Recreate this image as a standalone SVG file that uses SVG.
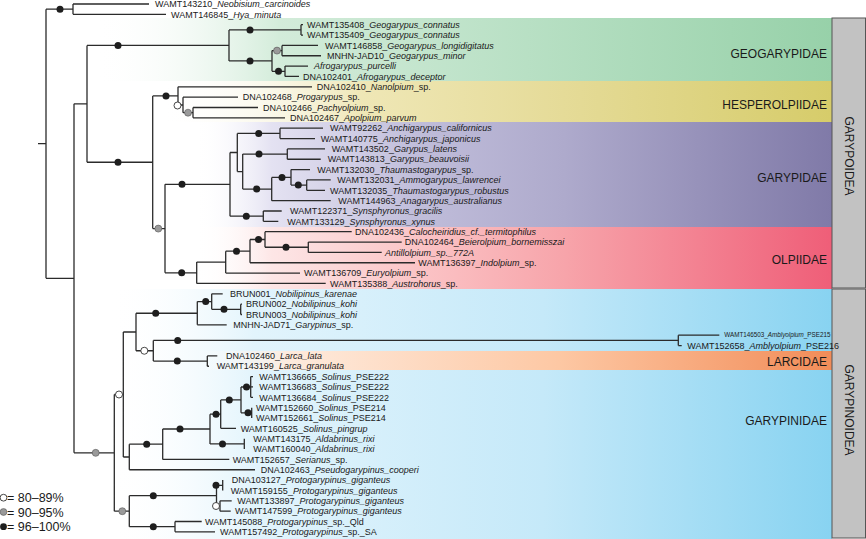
<svg xmlns="http://www.w3.org/2000/svg" width="866" height="539" viewBox="0 0 866 539">
<style>
.t{font-family:"Liberation Sans",Arial,sans-serif;font-size:9px;fill:#1a1a1a}
.i{font-style:italic}
.fam{font-family:"Liberation Sans",Arial,sans-serif;font-size:12px;fill:#1a1a1a;text-anchor:end}
.sup{font-family:"Liberation Sans",Arial,sans-serif;font-size:12px;fill:#1a1a1a;text-anchor:middle}
.lg{font-family:"Liberation Sans",Arial,sans-serif;font-size:12.5px;fill:#1a1a1a}
.br{fill:none;stroke:#2b2b2b;stroke-width:1.3}
.b{fill:#1e1e1e}
.g{fill:#9a9a9a;stroke:#555;stroke-width:0.6}
.o{fill:#fff;stroke:#333;stroke-width:0.9}
.box{fill:#c2c2c2;stroke:#555;stroke-width:1}
</style>
<defs>
<linearGradient id="gGeo" gradientUnits="userSpaceOnUse" x1="95" y1="0" x2="832" y2="0">
<stop offset="0" stop-color="#ffffff" stop-opacity="0"/><stop offset="0.25" stop-color="#d3ecda"/><stop offset="1" stop-color="#97d1a9"/></linearGradient>
<linearGradient id="gHes" gradientUnits="userSpaceOnUse" x1="160" y1="0" x2="832" y2="0">
<stop offset="0" stop-color="#ffffff" stop-opacity="0"/><stop offset="0.3" stop-color="#efe7b6"/><stop offset="0.6" stop-color="#e5db98"/><stop offset="1" stop-color="#d6cc6a"/></linearGradient>
<linearGradient id="gGar" gradientUnits="userSpaceOnUse" x1="195" y1="0" x2="832" y2="0">
<stop offset="0" stop-color="#ffffff" stop-opacity="0"/><stop offset="0.12" stop-color="#e4e2f2"/><stop offset="0.35" stop-color="#c0bdda"/><stop offset="0.58" stop-color="#aeaacc"/><stop offset="1" stop-color="#807aa8"/></linearGradient>
<linearGradient id="gOlp" gradientUnits="userSpaceOnUse" x1="195" y1="0" x2="832" y2="0">
<stop offset="0" stop-color="#ffffff" stop-opacity="0"/><stop offset="0.12" stop-color="#fde6e6"/><stop offset="0.35" stop-color="#fbc4c6"/><stop offset="0.58" stop-color="#f7a4aa"/><stop offset="1" stop-color="#ef5e78"/></linearGradient>
<linearGradient id="gGpn" gradientUnits="userSpaceOnUse" x1="110" y1="0" x2="832" y2="0">
<stop offset="0" stop-color="#ffffff" stop-opacity="0"/><stop offset="0.2" stop-color="#e2f4fc"/><stop offset="0.6" stop-color="#c5e9f9"/><stop offset="1" stop-color="#88d3f1"/></linearGradient>
<linearGradient id="gLar" gradientUnits="userSpaceOnUse" x1="195" y1="0" x2="832" y2="0">
<stop offset="0" stop-color="#ffffff" stop-opacity="0"/><stop offset="0.15" stop-color="#feeadc"/><stop offset="0.57" stop-color="#fdc8a4"/><stop offset="1" stop-color="#f28c58"/></linearGradient>
</defs>
<rect width="866" height="539" fill="#fff"/>

<g id="bands">
<g id="geogarypidae"><rect x="95" y="18" width="737" height="63" fill="url(#gGeo)"/><text class="fam" x="827" y="57.5">GEOGARYPIDAE</text></g>
<g id="hesperolpiidae"><rect x="160" y="81" width="672" height="41" fill="url(#gHes)"/><text class="fam" x="827" y="108.5">HESPEROLPIIDAE</text></g>
<g id="garypidae"><rect x="195" y="122" width="637" height="105" fill="url(#gGar)"/><text class="fam" x="827" y="182">GARYPIDAE</text></g>
<g id="olpiidae"><rect x="195" y="227" width="637" height="62" fill="url(#gOlp)"/><text class="fam" x="827" y="263.5">OLPIIDAE</text></g>
<g id="garypinidae"><rect x="110" y="289" width="722" height="250" fill="url(#gGpn)"/><text class="fam" x="827" y="425">GARYPINIDAE</text></g>
<g id="larcidae"><rect x="195" y="351" width="637" height="19" fill="url(#gLar)"/><text class="fam" x="827" y="366">LARCIDAE</text></g>
</g>

<g id="superfamilies">
<g id="garypoidea"><rect class="box" x="832" y="18" width="33.5" height="270"/><text class="sup" transform="translate(849,156) rotate(90)" y="4.3">GARYPOIDEA</text></g>
<g id="garypinoidea"><rect class="box" x="832" y="289" width="33.5" height="249"/><text class="sup" transform="translate(849,410) rotate(90)" y="4.3">GARYPINOIDEA</text></g>
</g>

<g id="connectors">
<path class="br" d="M38 143.7H46 M46 9.2V278.3 M46 9.2H73 M73 4V14.35 M73 4H149 M73 14.35H166
M46 278.3H74 M74 103.8V452.85 M74 103.8H87 M87 45.4V162.25
M87 45.4H229 M229 29.9V60.9 M229 29.9H301 M301 24.7V35.05 M301 24.7H303 M301 35.05H303 M229 60.9H272 M272 50.6V71.3 M272 50.6H282 M282 45.4V55.75 M282 45.4H318 M282 55.75H321 M272 71.3H285 M285 66.1V76.45 M285 66.1H308 M285 76.45H299
M87 162.25H152.7 M152.7 95.9V228.6
M152.7 95.9H178 M178 86.8V105 M178 86.8H312 M178 105H183 M183 97.15V112.7 M183 97.15H238 M183 112.7H193 M193 107.5V117.85 M193 107.5H258 M193 117.85H285
M152.7 228.6H165 M165 184.35V272.8
M165 184.35H230 M230 152.5V216.2
M230 152.5H237.3 M237.3 133.4V171.6
M237.3 133.4H280 M280 128.2V138.55 M280 128.2H323 M280 138.55H315
M237.3 171.6H242.7 M242.7 154.1V189.05
M242.7 154.1H287.3 M287.3 148.9V159.25 M287.3 148.9H325 M287.3 159.25H320.7
M242.7 189.05H271.7 M271.7 177.4V200.65 M271.7 200.65H330.7
M271.7 177.4H291 M291 169.6V185.1 M291 169.6H310
M291 185.1H306.7 M306.7 179.95V190.3 M306.7 179.95H330.7 M306.7 190.3H325
M230 216.2H263.3 M263.3 211V221.35 M263.3 211H281.7 M263.3 221.35H278.3
M165 272.8H196.7 M196.7 262.1V283.45 M196.7 283.45H325.7
M196.7 262.1H225.7 M225.7 251.15V273.1 M225.7 273.1H300
M225.7 251.15H250 M250 239.5V262.75 M250 262.75H415
M250 239.5H265 M265 231.7V247.25 M265 231.7H351.7
M265 247.25H308.3 M308.3 242.05V252.4 M308.3 242.05H401.7 M308.3 252.4H381.7
M74 452.85H114.3 M114.3 394.5V511.2
M114.3 394.5H123.3 M123.3 332V457
M123.3 332H136 M136 313.25V350.75
M136 313.25H197.3 M197.3 301.6V324.85 M197.3 324.85H226.7
M197.3 301.6H211.7 M211.7 293.8V309.35 M211.7 293.8H222.7
M211.7 309.35H240.7 M240.7 304.15V314.5 M240.7 304.15H242 M240.7 314.5H242
M136 350.75H153.3 M153.3 340.4V361.1
M153.3 340.4H678.3 M678.3 335.2V345.55 M678.3 335.2H719.3 M678.3 345.55H681.7
M153.3 361.1H207.3 M207.3 355.9V366.25 M207.3 355.9H217.3 M207.3 366.25H209
M123.3 457H129.3 M129.3 444.2V469.75 M129.3 469.75H255
M129.3 444.2H162.7 M162.7 429V459.4 M162.7 459.4H229.3
M162.7 429H210 M210 414.15V443.9
M210 414.15H220.7 M220.7 399.9V428.35 M220.7 428.35H236
M220.7 399.9H241 M241 387V412.85
M241 387H250.7 M250.7 376.6V397.3 M250.7 376.6H253 M250.7 386.95H253 M250.7 397.3H253
M241 412.85H251.7 M251.7 407.65V418
M210 443.9H244.3 M244.3 438.7V449.05
M114.3 511.2H129.3 M129.3 495.65V526.7
M129.3 495.65H216.5 M216.5 485.3V506
M216.5 485.3H222.7 M222.7 480.1V490.45
M216.5 506H220 M220 500.8V511.15 M220 500.8H231.7 M220 511.15H230.7
M129.3 526.7H175 M175 521.5V531.85 M175 521.5H201.7 M175 531.85H215"/>
</g>

<g id="support">
<circle class="b" cx="60" cy="9.2" r="3.5"/>
<circle class="b" cx="118" cy="45.4" r="3.5"/>
<circle class="b" cx="250" cy="29.9" r="3.5"/>
<circle class="b" cx="250" cy="60.9" r="3.5"/>
<circle class="g" cx="277" cy="50.6" r="3.5"/>
<circle class="b" cx="278.5" cy="71.3" r="3.5"/>
<circle class="b" cx="118" cy="162.25" r="3.5"/>
<circle class="b" cx="166" cy="95.9" r="3.5"/>
<circle class="o" cx="177.5" cy="105.5" r="3.5"/>
<circle class="g" cx="188" cy="112.7" r="3.5"/>
<circle class="g" cx="158.3" cy="228.6" r="3.5"/>
<circle class="b" cx="182" cy="184.35" r="3.5"/>
<circle class="b" cx="258.7" cy="133.4" r="3.5"/>
<circle class="b" cx="259" cy="154.1" r="3.5"/>
<circle class="b" cx="256.7" cy="189.05" r="3.5"/>
<circle class="b" cx="282" cy="177.4" r="3.5"/>
<circle class="b" cx="298.3" cy="185.1" r="3.5"/>
<circle class="b" cx="246.3" cy="216.2" r="3.5"/>
<circle class="b" cx="181.7" cy="272.8" r="3.5"/>
<circle class="b" cx="236.5" cy="251.15" r="3.5"/>
<circle class="b" cx="258.5" cy="239.5" r="3.5"/>
<circle class="b" cx="286" cy="247.25" r="3.5"/>
<circle class="g" cx="95.7" cy="452.85" r="3.5"/>
<circle class="o" cx="119" cy="394.5" r="3.5"/>
<circle class="b" cx="155.7" cy="313.25" r="3.5"/>
<circle class="b" cx="205.7" cy="301.6" r="3.5"/>
<circle class="b" cx="224" cy="309.35" r="3.5"/>
<circle class="o" cx="144.3" cy="350.75" r="3.5"/>
<circle class="b" cx="177.7" cy="340.4" r="3.5"/>
<circle class="b" cx="177.3" cy="361.1" r="3.5"/>
<circle class="b" cx="146.7" cy="444.2" r="3.5"/>
<circle class="b" cx="180" cy="429" r="3.5"/>
<circle class="b" cx="216" cy="414.15" r="3.5"/>
<circle class="b" cx="229.3" cy="399.9" r="3.5"/>
<circle class="b" cx="246.5" cy="387" r="3.5"/>
<circle class="b" cx="248" cy="412.85" r="3.5"/>
<circle class="b" cx="222.5" cy="443.9" r="3.5"/>
<circle class="g" cx="122.3" cy="511.2" r="3.5"/>
<circle class="b" cx="153.3" cy="495.65" r="3.5"/>
<circle class="b" cx="216" cy="485.3" r="3.5"/>
<circle class="o" cx="216" cy="506" r="3.5"/>
<circle class="b" cx="153.3" cy="526.7" r="3.5"/>
</g>

<g id="tips">
<g id="t1"><text class="t" x="155" y="7.2">WAMT143210_<tspan class="i">Neobisium_carcinoides</tspan></text></g>
<g id="t2"><text class="t" x="171" y="17.55">WAMT146845_<tspan class="i">Hya_minuta</tspan></text></g>
<g id="t3"><text class="t" x="307" y="27.9">WAMT135408_<tspan class="i">Geogarypus_connatus</tspan></text></g>
<g id="t4"><text class="t" x="307" y="38.25">WAMT135409_<tspan class="i">Geogarypus_connatus</tspan></text></g>
<g id="t5"><text class="t" x="325" y="48.6">WAMT146858_<tspan class="i">Geogarypus_longidigitatus</tspan></text></g>
<g id="t6"><text class="t" x="327" y="58.95">MNHN-JAD10_<tspan class="i">Geogarypus_minor</tspan></text></g>
<g id="t7"><text class="t i" x="314" y="69.3">Afrogarypus_purcelli</text></g>
<g id="t8"><text class="t" x="303" y="79.65">DNA102401_<tspan class="i">Afrogarypus_deceptor</tspan></text></g>
<g id="t9"><text class="t" x="316.7" y="90">DNA102410_<tspan class="i">Nanolpium</tspan>_sp.</text></g>
<g id="t10"><text class="t" x="242.7" y="100.35">DNA102468_<tspan class="i">Progarypus</tspan>_sp.</text></g>
<g id="t11"><text class="t" x="263" y="110.7">DNA102466_<tspan class="i">Pachyolpium</tspan>_sp.</text></g>
<g id="t12"><text class="t" x="290" y="121.05">DNA102467_<tspan class="i">Apolpium_parvum</tspan></text></g>
<g id="t13"><text class="t" x="330" y="131.4">WAMT92262_<tspan class="i">Anchigarypus_californicus</tspan></text></g>
<g id="t14"><text class="t" x="320.7" y="141.75">WAMT140775_<tspan class="i">Anchigarypus_japonicus</tspan></text></g>
<g id="t15"><text class="t" x="331.7" y="152.1">WAMT143502_<tspan class="i">Garypus_latens</tspan></text></g>
<g id="t16"><text class="t" x="327.7" y="162.45">WAMT143813_<tspan class="i">Garypus_beauvoisii</tspan></text></g>
<g id="t17"><text class="t" x="317.3" y="172.8">WAMT132030_<tspan class="i">Thaumastogarypus</tspan>_sp.</text></g>
<g id="t18"><text class="t" x="337.3" y="183.15">WAMT132031_<tspan class="i">Ammogarypus_lawrencei</tspan></text></g>
<g id="t19"><text class="t" x="330" y="193.5">WAMT132035_<tspan class="i">Thaumastogarypus_robustus</tspan></text></g>
<g id="t20"><text class="t" x="338.3" y="203.85">WAMT144963_<tspan class="i">Anagarypus_australianus</tspan></text></g>
<g id="t21"><text class="t" x="290" y="214.2">WAMT122371_<tspan class="i">Synsphyronus_gracilis</tspan></text></g>
<g id="t22"><text class="t" x="287.3" y="224.55">WAMT133129_<tspan class="i">Synsphyronus_xynus</tspan></text></g>
<g id="t23"><text class="t" x="355" y="234.9">DNA102436_<tspan class="i">Calocheiridius_cf._termitophilus</tspan></text></g>
<g id="t24"><text class="t" x="404.7" y="245.25">DNA102464_<tspan class="i">Beierolpium_bornemisszai</tspan></text></g>
<g id="t25"><text class="t i" x="385" y="255.6">Antillolpium_sp._772A</text></g>
<g id="t26"><text class="t" x="418.3" y="265.95">WAMT136397_<tspan class="i">Indolpium</tspan>_sp.</text></g>
<g id="t27"><text class="t" x="304" y="276.3">WAMT136709_<tspan class="i">Euryolpium</tspan>_sp.</text></g>
<g id="t28"><text class="t" x="330" y="286.65">WAMT135388_<tspan class="i">Austrohorus</tspan>_sp.</text></g>
<g id="t29"><text class="t" x="230" y="297">BRUN001_<tspan class="i">Nobilipinus_karenae</tspan></text></g>
<g id="t30"><text class="t" x="246" y="307.35">BRUN002_<tspan class="i">Nobilipinus_kohi</tspan></text></g>
<g id="t31"><text class="t" x="246" y="317.7">BRUN003_<tspan class="i">Nobilipinus_kohi</tspan></text></g>
<g id="t32"><text class="t" x="233.3" y="328.05">MNHN-JAD71_<tspan class="i">Garypinus</tspan>_sp.</text></g>
<g id="t33"><text class="t" style="font-size:6.3px" x="724.3" y="337.4">WAMT146503_<tspan class="i">Amblyolpium</tspan>_PSE215</text></g>
<g id="t34"><text class="t" x="687.3" y="348.75">WAMT152658_<tspan class="i">Amblyolpium</tspan>_PSE216</text></g>
<g id="t35"><text class="t" x="226" y="359.1">DNA102460_<tspan class="i">Larca_lata</tspan></text></g>
<g id="t36"><text class="t" x="216.7" y="369.45">WAMT143199_<tspan class="i">Larca_granulata</tspan></text></g>
<g id="t37"><text class="t" x="259.3" y="379.8">WAMT136665_<tspan class="i">Solinus</tspan>_PSE222</text></g>
<g id="t38"><text class="t" x="259.3" y="390.15">WAMT136683_<tspan class="i">Solinus</tspan>_PSE222</text></g>
<g id="t39"><text class="t" x="259.3" y="400.5">WAMT136684_<tspan class="i">Solinus</tspan>_PSE222</text></g>
<g id="t40"><text class="t" x="256" y="410.85">WAMT152660_<tspan class="i">Solinus</tspan>_PSE214</text></g>
<g id="t41"><text class="t" x="256" y="421.2">WAMT152661_<tspan class="i">Solinus</tspan>_PSE214</text></g>
<g id="t42"><text class="t" x="240.7" y="431.55">WAMT160525_<tspan class="i">Solinus_pingrup</tspan></text></g>
<g id="t43"><text class="t" x="253.3" y="441.9">WAMT143175_<tspan class="i">Aldabrinus_rixi</tspan></text></g>
<g id="t44"><text class="t" x="253.3" y="452.25">WAMT160040_<tspan class="i">Aldabrinus_rixi</tspan></text></g>
<g id="t45"><text class="t" x="232.7" y="462.6">WAMT152657_<tspan class="i">Serianus</tspan>_sp.</text></g>
<g id="t46"><text class="t" x="260.7" y="472.95">DNA102463_<tspan class="i">Pseudogarypinus_cooperi</tspan></text></g>
<g id="t47"><text class="t" x="231.7" y="483.3">DNA103127_<tspan class="i">Protogarypinus_giganteus</tspan></text></g>
<g id="t48"><text class="t" x="230.7" y="493.65">WAMT159155_<tspan class="i">Protogarypinus_giganteus</tspan></text></g>
<g id="t49"><text class="t" x="237.3" y="504">WAMT133897_<tspan class="i">Protogarypinus_giganteus</tspan></text></g>
<g id="t50"><text class="t" x="235" y="514.35">WAMT147599_<tspan class="i">Protogarypinus_giganteus</tspan></text></g>
<g id="t51"><text class="t" x="205" y="524.7">WAMT145088_<tspan class="i">Protogarypinus</tspan>_sp._Qld</text></g>
<g id="t52"><text class="t" x="220" y="535.05">WAMT157492_<tspan class="i">Protogarypinus</tspan>_sp._SA</text></g>
</g>

<g id="legend">
<circle class="o" cx="3.5" cy="497.7" r="3.4"/><text class="lg" x="7" y="502.2">= 80–89%</text>
<circle class="g" cx="3.5" cy="512" r="3.4"/><text class="lg" x="7" y="516.5">= 90–95%</text>
<circle class="b" cx="3.5" cy="526.7" r="3.4"/><text class="lg" x="7" y="531.2">= 96–100%</text>
</g>
</svg>
